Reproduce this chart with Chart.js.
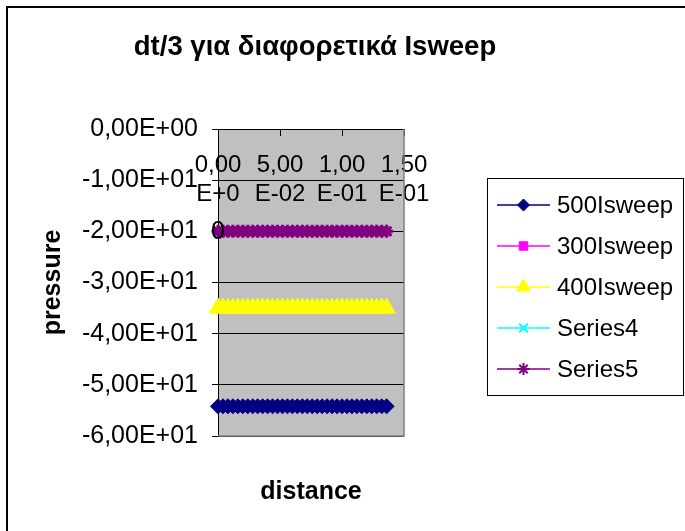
<!DOCTYPE html>
<html lang="el">
<head>
<meta charset="UTF-8">
<title>dt/3 για διαφορετικά Isweep</title>
<script src="https://cdn.jsdelivr.net/npm/chart.js"></script>
<style>
	body { margin: 0; background: #fff; }
	canvas { display: block; }
</style>
</head>
<body>
<canvas id="chart" width="685" height="531"></canvas>
<script>
	const chartTitle = 'dt/3 για διαφορετικά Isweep';

	// distance values (shared by every series)
	const xValues = [0, 0.004, 0.008, 0.012, 0.016, 0.02, 0.024, 0.028, 0.032, 0.036,
		0.04, 0.044, 0.048, 0.052, 0.056, 0.06, 0.064, 0.068, 0.072, 0.076,
		0.08, 0.084, 0.088, 0.092, 0.096, 0.1, 0.104, 0.108, 0.112, 0.116,
		0.12, 0.124, 0.128, 0.132, 0.136];

	// pressure values per series
	const p500 = [-54.2, -54.2, -54.2, -54.2, -54.2, -54.2, -54.2, -54.2, -54.2, -54.2,
		-54.2, -54.2, -54.2, -54.2, -54.2, -54.2, -54.2, -54.2, -54.2, -54.2,
		-54.2, -54.2, -54.2, -54.2, -54.2, -54.2, -54.2, -54.2, -54.2, -54.2,
		-54.2, -54.2, -54.2, -54.2, -54.2];
	const p300 = [-20, -20, -20, -20, -20, -20, -20, -20, -20, -20,
		-20, -20, -20, -20, -20, -20, -20, -20, -20, -20,
		-20, -20, -20, -20, -20, -20, -20, -20, -20, -20,
		-20, -20, -20, -20, -20];
	const p400 = [-35, -35, -35, -35, -35, -35, -35, -35, -35, -35,
		-35, -35, -35, -35, -35, -35, -35, -35, -35, -35,
		-35, -35, -35, -35, -35, -35, -35, -35, -35, -35,
		-35, -35, -35, -35, -35];
	const pSeries4 = [-20, -20, -20, -20, -20, -20, -20, -20, -20, -20,
		-20, -20, -20, -20, -20, -20, -20, -20, -20, -20,
		-20, -20, -20, -20, -20, -20, -20, -20, -20, -20,
		-20, -20, -20, -20, -20];
	const pSeries5 = [-20, -20, -20, -20, -20, -20, -20, -20, -20, -20,
		-20, -20, -20, -20, -20, -20, -20, -20, -20, -20,
		-20, -20, -20, -20, -20, -20, -20, -20, -20, -20,
		-20, -20, -20, -20, -20];

	const seriesNames = ['500Isweep', '300Isweep', '400Isweep', 'Series4', 'Series5'];

	// tick labels as Excel shows them
	const yTickValues = [0, -10, -20, -30, -40, -50, -60];
	const yTickLabels = ['0,00E+00', '-1,00E+01', '-2,00E+01', '-3,00E+01', '-4,00E+01', '-5,00E+01', '-6,00E+01'];
	const xTickLabels = [['0,00', 'E+0'], ['5,00', 'E-02'], ['1,00', 'E-01'], ['1,50', 'E-01']];

	// data label on the first point of Series5
	const series5Label = '0';

	const FONT = 'Liberation Sans, Arial, sans-serif';
	Chart.defaults.font.family = FONT;
	Chart.defaults.color = '#000';

	function pts(ys) {
		return xValues.map((x, i) => ({x: x, y: ys[i]}));
	}

	const styles = [
		{color: '#000080', pointStyle: 'rectRot', radius: 7.5, bw: 1},
		{color: '#FF00FF', pointStyle: 'rect', radius: 6, bw: 1},
		{color: '#FFFF00', pointStyle: 'triangle', radius: 10, bw: 1},
		{color: '#00FFFF', pointStyle: 'crossRot', radius: 6, bw: 2},
		{color: '#800080', pointStyle: 'star', radius: 6.5, bw: 3}
	];
	const seriesData = [p500, p300, p400, pSeries4, pSeries5];

	const datasets = seriesData.map((ys, i) => ({
		label: seriesNames[i],
		data: pts(ys),
		order: seriesData.length - i, // later series on top, like Excel
		showLine: true,
		borderColor: styles[i].color,
		backgroundColor: styles[i].color,
		borderWidth: 1.5,
		pointStyle: styles[i].pointStyle,
		pointRadius: styles[i].radius,
		pointBorderWidth: styles[i].bw,
		pointBackgroundColor: styles[i].color,
		pointBorderColor: styles[i].color,
		clip: false
	}));

	const excelLook = {
		id: 'excelLook',
		beforeDraw(chart) {
			const {ctx, chartArea: a} = chart;
			ctx.save();
			ctx.fillStyle = '#fff';
			ctx.fillRect(0, 0, chart.width, chart.height);
			// outer chart frame
			ctx.strokeStyle = '#000';
			ctx.lineWidth = 2;
			ctx.strokeRect(7, 7, chart.width + 20, chart.height + 20);
			// plot area
			ctx.fillStyle = '#C0C0C0';
			ctx.fillRect(a.left, a.top, a.right - a.left, a.bottom - a.top);
			// title
			ctx.fillStyle = '#000';
			ctx.font = 'bold 27.5px ' + FONT;
			ctx.textAlign = 'center';
			ctx.textBaseline = 'middle';
			ctx.fillText(chartTitle, 315, 47);
			ctx.restore();
		},
		beforeDatasetsDraw(chart) {
			const {ctx, chartArea: a} = chart;
			ctx.save();
			ctx.strokeStyle = '#808080';
			ctx.lineWidth = 1.5;
			ctx.beginPath();
			ctx.moveTo(a.right, a.top);
			ctx.lineTo(a.right, a.bottom);
			ctx.lineTo(a.left, a.bottom);
			ctx.stroke();
			ctx.restore();
		},
		afterDatasetsDraw(chart) {
			const {ctx, scales} = chart;
			ctx.save();
			ctx.fillStyle = '#000';
			ctx.font = '25px ' + FONT;
			ctx.textAlign = 'center';
			ctx.textBaseline = 'middle';
			ctx.fillText(series5Label, scales.x.getPixelForValue(xValues[0]), scales.y.getPixelForValue(pSeries5[0]) + 1);
			ctx.restore();
		},
		afterDraw(chart) {
			// legend box with line + marker samples
			const ctx = chart.ctx;
			ctx.save();
			ctx.strokeStyle = '#000';
			ctx.lineWidth = 1;
			ctx.strokeRect(487.5, 178.5, 196, 217);
			ctx.font = '24px ' + FONT;
			ctx.textBaseline = 'middle';
			ctx.textAlign = 'left';
			chart.data.datasets.forEach((ds, i) => {
				const y = 205 + i * 41;
				ctx.strokeStyle = ds.borderColor;
				ctx.fillStyle = ds.borderColor;
				ctx.lineWidth = 1.5;
				ctx.beginPath();
				ctx.moveTo(497, y);
				ctx.lineTo(550, y);
				ctx.stroke();
				ctx.lineWidth = Math.min(ds.pointBorderWidth, 2);
				Chart.helpers.drawPoint(ctx, {
					pointStyle: ds.pointStyle,
					radius: ds.pointStyle === 'triangle' ? 8 : 6,
					rotation: 0,
					borderWidth: Math.min(ds.pointBorderWidth, 2)
				}, 523.5, y);
				ctx.fillStyle = '#000';
				ctx.fillText(ds.label, 557, y + 1);
			});
			ctx.restore();
		}
	};

	new Chart(document.getElementById('chart'), {
		type: 'scatter',
		data: {datasets: datasets},
		options: {
			responsive: false,
			animation: false,
			layout: {padding: {left: 7, right: 281, top: 129, bottom: 24}},
			plugins: {
				legend: {display: false},
				tooltip: {enabled: false},
				title: {display: false}
			},
			scales: {
				x: {
					type: 'linear',
					position: {y: 0},
					min: 0,
					max: 0.15,
					grid: {drawOnChartArea: false, drawTicks: true, tickLength: 6, color: '#000'},
					border: {display: true, color: '#000', width: 1},
					ticks: {
						stepSize: 0.05,
						autoSkip: false,
						maxRotation: 0,
						padding: 16,
						font: {size: 24, lineHeight: 1.2},
						callback: (v, i) => xTickLabels[i]
					}
				},
				x2: {
					type: 'linear',
					axis: 'x',
					position: 'bottom',
					min: 0,
					max: 0.15,
					grid: {display: false},
					border: {display: false},
					ticks: {display: false},
					title: {
						display: true,
						text: 'distance',
						font: {size: 25, weight: 'bold', lineHeight: 1.2},
						padding: {top: 33, bottom: 0}
					}
				},
				y: {
					type: 'linear',
					position: 'left',
					min: -60,
					max: 0,
					grid: {color: '#000', lineWidth: 1, tickLength: 6},
					border: {display: true, color: '#000', width: 1},
					ticks: {
						stepSize: 10,
						padding: 14,
						font: {size: 25},
						callback: v => yTickLabels[yTickValues.indexOf(v)]
					},
					title: {
						display: true,
						text: 'pressure',
						font: {size: 25, weight: 'bold', lineHeight: 1.2},
						padding: {top: 31, bottom: 0}
					},
					afterFit: s => { s.width = 211; }
				}
			}
		},
		plugins: [excelLook]
	});
</script>
</body>
</html>
